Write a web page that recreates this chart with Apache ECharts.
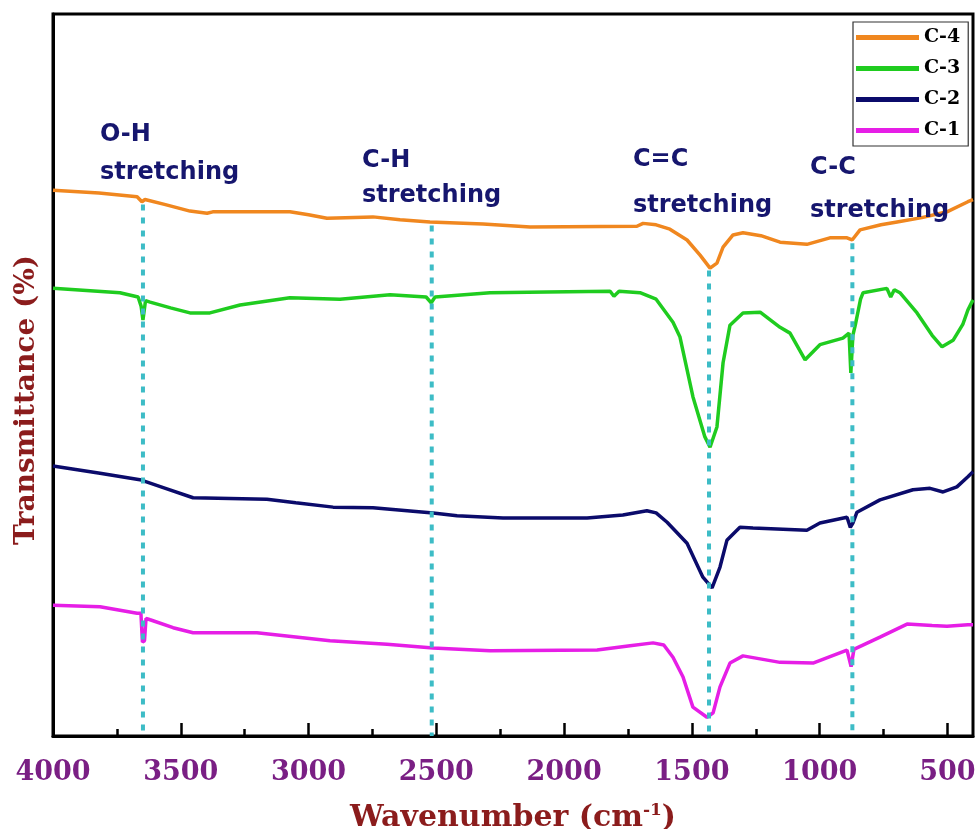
<!DOCTYPE html>
<html>
<head>
<meta charset="utf-8">
<style>
  html, body { margin: 0; padding: 0; background: #fff; }
  #chart { width: 978px; height: 829px; }
</style>
<script src="https://cdn.jsdelivr.net/npm/echarts@6/dist/echarts.min.js"></script>
</head>
<body>
<div id="chart"></div>
<script>
// FTIR spectra of four samples, offset vertically (wavenumber in cm-1, transmittance in arbitrary offset units)
const seriesNames = ['C-4', 'C-3', 'C-2', 'C-1'];
const seriesColors = ['#f0871f', '#1fcc1f', '#0b0b6b', '#e61ee6'];

const c4 = [
  [4000,75.6],[3820,75.2],[3671,74.7],[3652,74.0],[3640,74.3],[3560,73.6],[3464,72.7],[3397,72.4],
  [3375,72.6],[3073,72.6],[3000,72.2],[2928,71.7],[2748,71.9],[2642,71.5],[2525,71.2],[2317,70.9],
  [2133,70.5],[1715,70.6],[1691,71.0],[1640,70.8],[1586,70.2],[1519,68.7],[1468,66.6],[1429,64.8],
  [1402,65.5],[1378,67.7],[1339,69.4],[1300,69.7],[1230,69.3],[1155,68.4],[1050,68.1],[960,69.0],
  [893,69.0],[873,68.7],[842,70.1],[760,70.8],[697,71.2],[600,71.8],[502,72.6],[420,74.0],[400,74.3]
];
const c3 = [
  [4000,62.0],[3738,61.4],[3667,60.8],[3655,59.5],[3648,57.6],[3638,60.3],[3620,60.1],[3540,59.3],
  [3464,58.6],[3386,58.6],[3268,59.7],[3073,60.7],[2877,60.5],[2681,61.1],[2540,60.8],[2520,60.0],
  [2505,60.8],[2290,61.4],[2067,61.5],[1820,61.6],[1805,60.9],[1785,61.6],[1703,61.4],[1640,60.5],
  [1574,57.3],[1547,55.3],[1496,47.0],[1450,41.5],[1429,40.0],[1402,42.8],[1378,51.7],[1351,56.9],
  [1300,58.6],[1233,58.7],[1155,56.6],[1116,55.8],[1057,52.1],[999,54.2],[909,55.1],[885,55.8],
  [878,50.3],[870,55.5],[860,57.0],[840,60.5],[830,61.4],[737,62.0],[722,60.8],[708,61.8],[686,61.4],
  [619,58.6],[560,55.5],[521,53.9],[478,54.8],[440,57.0],[420,59.0],[400,60.4]
];
const c2 = [
  [4000,37.4],[3816,36.4],[3660,35.5],[3560,34.3],[3452,33.0],[3163,32.8],[3050,32.3],[2904,31.7],
  [2748,31.6],[2513,30.9],[2419,30.5],[2239,30.2],[1910,30.2],[1770,30.6],[1676,31.2],[1640,30.9],
  [1597,29.6],[1519,26.7],[1457,22.0],[1421,20.5],[1390,23.4],[1363,27.1],[1312,28.9],[1261,28.8],
  [1050,28.5],[999,29.5],[893,30.3],[880,28.9],[870,29.5],[854,31.0],[764,32.7],[635,34.1],[568,34.3],
  [517,33.8],[463,34.5],[420,35.9],[400,36.6]
];
const c1 = [
  [4000,18.1],[3816,17.9],[3671,17.0],[3656,17.0],[3650,13.0],[3642,13.2],[3636,16.3],[3620,16.1],
  [3530,15.0],[3452,14.3],[3202,14.3],[2916,13.2],[2693,12.7],[2513,12.2],[2290,11.8],[1871,11.9],
  [1742,12.5],[1652,12.9],[1610,12.6],[1574,10.9],[1535,8.2],[1496,4.0],[1441,2.6],[1417,3.2],
  [1390,6.8],[1351,10.1],[1300,11.1],[1155,10.2],[1026,10.1],[893,11.9],[877,9.6],[866,12.0],
  [854,12.2],[764,13.7],[658,15.5],[560,15.3],[502,15.2],[420,15.4],[400,15.4]
];

// band assignments marked with dotted guide lines
const bandWavenumbers = [3648, 2518, 1433, 872];
const bandNames = ['O-H', 'C-H', 'C=C', 'C-C'];

// axis ticks
const majorTicks = [4000, 3500, 3000, 2500, 2000, 1500, 1000, 500];
const minorTicks = [3750, 3250, 2750, 2250, 1750, 1250, 750];

// value of a spectrum at a given wavenumber (linear between samples)
function valueAt(series, wn) {
  for (let i = 0; i < series.length - 1; i++) {
    const a = series[i], b = series[i + 1];
    if (wn <= a[0] && wn >= b[0]) {
      const t = (a[0] - wn) / (a[0] - b[0]);
      return a[1] + t * (b[1] - a[1]);
    }
  }
  return series[series.length - 1][1];
}

const spectra = [c4, c3, c2, c1];
const chart = echarts.init(document.getElementById('chart'));

const lineSeries = spectra.map((d, i) => ({
  name: seriesNames[i],
  type: 'line',
  data: d,
  symbol: 'none',
  smooth: false,
  z: 3,
  lineStyle: { color: seriesColors[i], width: 3.5 },
  itemStyle: { color: seriesColors[i] }
}));

const guideSeries = bandWavenumbers.map(wn => ({
  name: 'guide-' + wn,
  type: 'line',
  data: [[wn, valueAt(c4, wn) - 0.5], [wn, 0]],
  symbol: 'none',
  z: 5,
  silent: true,
  lineStyle: { color: '#3dbcc6', width: 4, type: [6, 7] }
}));

// two-line band annotations: [label, left x, bottom y of first line, bottom y of second line]
const annotations = [
  [bandNames[0], 100, 147, 185],
  [bandNames[1], 362, 173, 208],
  [bandNames[2], 633, 172, 218],
  [bandNames[3], 810, 180, 223]
];
const annoFont = 'bold 24px "DejaVu Sans"';
const graphics = [];
annotations.forEach(a => {
  graphics.push({ type: 'text', x: a[1], y: a[2], z: 10,
    style: { text: a[0], font: annoFont, fill: '#16166e', verticalAlign: 'bottom' } });
  graphics.push({ type: 'text', x: a[1], y: a[3], z: 10,
    style: { text: 'stretching', font: annoFont, fill: '#16166e', verticalAlign: 'bottom' } });
});
graphics.push({
  type: 'text', x: 27, y: 400, rotation: Math.PI / 2, z: 10,
  style: { text: 'Transmittance (%)', font: 'bold 28px "DejaVu Serif"', fill: '#8b1c1c',
           align: 'center', verticalAlign: 'middle' }
});

const option = {
  animation: false,
  backgroundColor: '#fff',
  grid: { left: 53, right: 5, top: 14, bottom: 93, show: true, borderColor: '#000', borderWidth: 3,
          outerBoundsMode: 'none', containLabel: false },
  legend: {
    data: seriesNames,
    orient: 'vertical',
    left: 853,
    top: 22,
    itemWidth: 63,
    itemHeight: 5,
    itemGap: 10,
    icon: 'rect',
    padding: [5, 8, 5, 3],
    borderColor: '#333',
    borderWidth: 1.2,
    backgroundColor: '#fff',
    textStyle: { fontFamily: 'DejaVu Serif', fontWeight: 'bold', fontSize: 19, lineHeight: 21, color: '#000' }
  },
  xAxis: [{
    type: 'value',
    min: 400,
    max: 4000,
    inverse: true,
    position: 'bottom',
    name: '{a|Wavenumber (cm}{s|-1}{a|)}',
    nameLocation: 'middle',
    nameGap: 66,
    nameTextStyle: {
      rich: {
        a: { fontFamily: 'DejaVu Serif', fontWeight: 'bold', fontSize: 30, color: '#8b1c1c' },
        s: { fontFamily: 'DejaVu Serif', fontWeight: 'bold', fontSize: 17, color: '#8b1c1c', verticalAlign: 'top', padding: [0, 0, 16, 0] }
      }
    },
    axisLine: { show: true, lineStyle: { color: '#000', width: 3 } },
    axisTick: { show: true, inside: true, length: 13, customValues: majorTicks, lineStyle: { color: '#000', width: 2.5 } },
    axisLabel: { show: true, customValues: majorTicks, margin: 23, color: '#7a1f84',
                 fontFamily: 'DejaVu Serif', fontWeight: 'bold', fontSize: 27,
                 formatter: v => String(v) },
    splitLine: { show: false }
  }, {
    type: 'value',
    min: 400,
    max: 4000,
    inverse: true,
    position: 'bottom',
    axisLine: { show: false },
    axisTick: { show: true, inside: true, length: 7, customValues: minorTicks, lineStyle: { color: '#000', width: 2.5 } },
    axisLabel: { show: false },
    splitLine: { show: false }
  }],
  yAxis: {
    type: 'value',
    min: 0,
    max: 100,
    axisLine: { show: true, lineStyle: { color: '#000', width: 3 } },
    axisTick: { show: false },
    axisLabel: { show: false },
    splitLine: { show: false }
  },
  series: lineSeries.concat(guideSeries),
  graphic: graphics
};

chart.setOption(option);
</script>
</body>
</html>
